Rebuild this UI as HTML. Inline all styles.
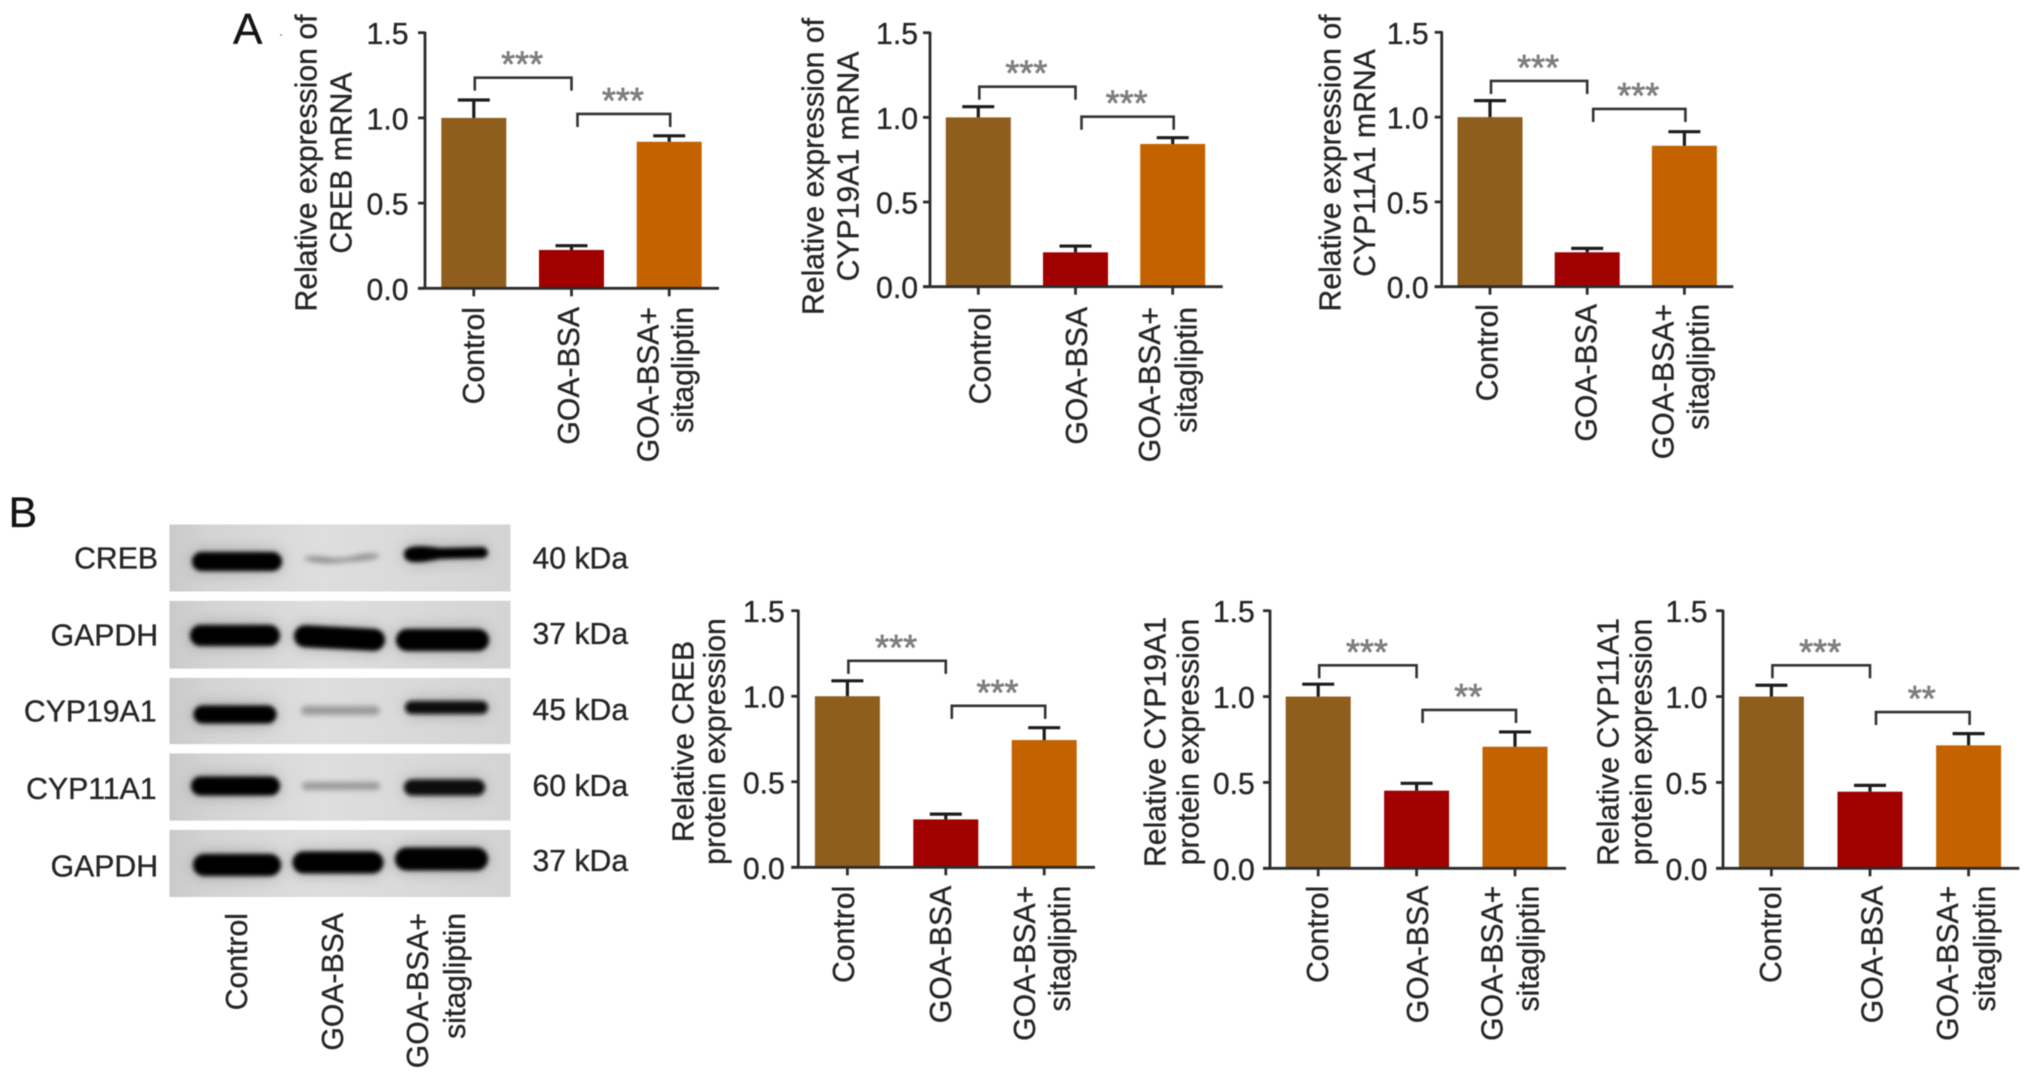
<!DOCTYPE html>
<html lang="en">
<head>
<meta charset="utf-8">
<title>Relative expression of CREB, CYP19A1 and CYP11A1</title>
<style>
html,body{margin:0;padding:0;background:#fff;width:2032px;height:1078px;overflow:hidden}
svg{display:block;filter:blur(0.5px)}
text{font-family:"Liberation Sans",Arial,sans-serif;fill:#262626;stroke:#262626;stroke-width:0.35px;font-size:30.2px}
</style>
</head>
<body>
<svg id="figure" xmlns="http://www.w3.org/2000/svg" width="2032" height="1078" viewBox="0 0 2032 1078">
<defs>
<linearGradient id="blotBg" x1="0" x2="1" y1="0" y2="0">
<stop offset="0" stop-color="#cacaca"/><stop offset="0.12" stop-color="#d4d4d4"/><stop offset="0.45" stop-color="#dedede"/><stop offset="1" stop-color="#d4d4d4"/>
</linearGradient>
<filter id="bandBlur" x="-25%" y="-150%" width="150%" height="400%">
<feGaussianBlur in="SourceGraphic" stdDeviation="8" result="wide"/>
<feComponentTransfer in="wide" result="halo"><feFuncA type="linear" slope="0.28"/></feComponentTransfer>
<feGaussianBlur in="SourceGraphic" stdDeviation="2.2" result="core"/>
<feMerge><feMergeNode in="halo"/><feMergeNode in="core"/></feMerge>
</filter>
<filter id="faintBlur" x="-10%" y="-200%" width="120%" height="500%"><feGaussianBlur stdDeviation="2.6"/></filter>
<clipPath id="blotClip1"><rect x="169.5" y="524.5" width="341" height="67"/></clipPath>
<clipPath id="blotClip2"><rect x="169.5" y="600.7" width="341" height="68"/></clipPath>
<clipPath id="blotClip3"><rect x="169.5" y="677.7" width="341" height="66.6"/></clipPath>
<clipPath id="blotClip4"><rect x="169.5" y="753.3" width="341" height="67.4"/></clipPath>
<clipPath id="blotClip5"><rect x="169.5" y="829.7" width="341" height="67.4"/></clipPath>
</defs>
<rect width="2032" height="1078" fill="#fff"/>
<text x="233" y="44" style="font-size:44px;fill:#141414;stroke:#141414">A</text>
<circle cx="281" cy="35" r="0.9" fill="#777"/>
<text x="8.5" y="527" style="font-size:43px;fill:#141414;stroke:#141414">B</text>

<g>
<g clip-path="url(#blotClip1)">
<rect x="169.5" y="524.5" width="341" height="67" fill="url(#blotBg)"/>
<rect x="192" y="552" width="90" height="19" rx="9.5" fill="#050505" filter="url(#bandBlur)"/>
<path d="M303 558C320 553 330 561 350 557C365 553 375 553 380 555C378 560 360 561 345 562C330 564 310 564 303 558Z" fill="#8f8f8f" filter="url(#faintBlur)"/>
<path d="M404 554C404 545 420 545 440 548L484 547Q492 553 484 558L440 559C420 563 404 565 404 554Z" fill="#050505" filter="url(#bandBlur)"/>
</g>
<g clip-path="url(#blotClip2)">
<rect x="169.5" y="600.7" width="341" height="68" fill="url(#blotBg)"/>
<rect x="190" y="625" width="90" height="21" rx="10.5" fill="#050505" filter="url(#bandBlur)"/>
<rect x="294" y="627" width="91" height="22" rx="11" fill="#050505" filter="url(#bandBlur)" transform="rotate(3 339 638)"/>
<rect x="396" y="629" width="93" height="22" rx="11" fill="#050505" filter="url(#bandBlur)"/>
</g>
<g clip-path="url(#blotClip3)">
<rect x="169.5" y="677.7" width="341" height="66.6" fill="url(#blotBg)"/>
<rect x="193.5" y="705.5" width="83" height="18" rx="9" fill="#050505" filter="url(#bandBlur)"/>
<rect x="301" y="706" width="79" height="9" rx="4.5" fill="#9a9a9a" filter="url(#faintBlur)"/>
<rect x="405" y="701" width="83" height="13" rx="6.5" fill="#070707" filter="url(#bandBlur)"/>
</g>
<g clip-path="url(#blotClip4)">
<rect x="169.5" y="753.3" width="341" height="67.4" fill="url(#blotBg)"/>
<rect x="191" y="776.5" width="89" height="19" rx="9.5" fill="#050505" filter="url(#bandBlur)"/>
<rect x="302" y="782" width="78" height="8" rx="4" fill="#9a9a9a" filter="url(#faintBlur)"/>
<rect x="404" y="779.5" width="81" height="16" rx="8" fill="#070707" filter="url(#bandBlur)"/>
</g>
<g clip-path="url(#blotClip5)">
<rect x="169.5" y="829.7" width="341" height="67.4" fill="url(#blotBg)"/>
<rect x="193" y="854" width="88" height="22" rx="11" fill="#050505" filter="url(#bandBlur)"/>
<rect x="292.5" y="851.5" width="91" height="22" rx="11" fill="#050505" filter="url(#bandBlur)"/>
<rect x="395" y="847.5" width="93" height="23" rx="11.5" fill="#050505" filter="url(#bandBlur)"/>
</g>
<g text-anchor="end">
<text x="158" y="568.3">CREB</text>
<text x="158" y="645.7">GAPDH</text>
<text x="156.5" y="721.7">CYP19A1</text>
<text x="156.5" y="799">CYP11A1</text>
<text x="158" y="876.5">GAPDH</text>
</g>
<g>
<text x="532.5" y="568.5">40 kDa</text>
<text x="532.5" y="644">37 kDa</text>
<text x="532.5" y="720">45 kDa</text>
<text x="532.5" y="796">60 kDa</text>
<text x="532.5" y="871">37 kDa</text>
</g>
<g text-anchor="end">
<text transform="translate(247 913) rotate(-90)">Control</text>
<text transform="translate(343 913) rotate(-90)">GOA-BSA</text>
<text transform="translate(428 913) rotate(-90)">GOA-BSA+</text>
<text transform="translate(465 913) rotate(-90)">sitagliptin</text>
</g>
</g>
</svg>
<script>
const categories = ['Control', 'GOA-BSA', 'GOA-BSA+ sitagliptin'];
const tickValues = [0, 0.5, 1, 1.5];
const tickLabels = ['0.0', '0.5', '1.0', '1.5'];
const barColors = ['#8f5e1d', '#a00000', '#c46200'];

const crebMrnaMeans = [1, 0.225, 0.86];
const crebMrnaErrors = [0.105, 0.025, 0.035];
const crebMrnaBrackets = [1.236, 1.023];
const crebMrnaStars = ['***', '***'];

const cyp19MrnaMeans = [1, 0.203, 0.843];
const cyp19MrnaErrors = [0.063, 0.037, 0.037];
const cyp19MrnaBrackets = [1.181, 1.004];
const cyp19MrnaStars = ['***', '***'];

const cyp11MrnaMeans = [1, 0.203, 0.831];
const cyp11MrnaErrors = [0.097, 0.023, 0.083];
const cyp11MrnaBrackets = [1.213, 1.048];
const cyp11MrnaStars = ['***', '***'];

const crebProteinMeans = [1, 0.28, 0.744];
const crebProteinErrors = [0.09, 0.031, 0.072];
const crebProteinBrackets = [1.207, 0.944];
const crebProteinStars = ['***', '***'];

const cyp19ProteinMeans = [1, 0.452, 0.708];
const cyp19ProteinErrors = [0.072, 0.043, 0.086];
const cyp19ProteinBrackets = [1.182, 0.922];
const cyp19ProteinStars = ['***', '**'];

const cyp11ProteinMeans = [1, 0.446, 0.716];
const cyp11ProteinErrors = [0.066, 0.037, 0.068];
const cyp11ProteinBrackets = [1.182, 0.91];
const cyp11ProteinStars = ['***', '**'];

const charts = [
  {id:'creb-mrna', means:crebMrnaMeans, errors:crebMrnaErrors, brackets:crebMrnaBrackets, stars:crebMrnaStars,
   title:['Relative expression of','CREB mRNA'], ax:425, y0:288.3, y15:32.7, xEnd:719, first:473.8, step:97.7,
   labelGap:16.5, titleX:[316.7,351.7], titleY:163, xTop:307, dx:[10,7.5,-10.7,24]},
  {id:'cyp19a1-mrna', means:cyp19MrnaMeans, errors:cyp19MrnaErrors, brackets:cyp19MrnaBrackets, stars:cyp19MrnaStars,
   title:['Relative expression of','CYP19A1 mRNA'], ax:930, y0:286.7, y15:32.7, xEnd:1222.7, first:978.3, step:97.2,
   labelGap:12, titleX:[823.3,858.3], titleY:166.5, xTop:307, dx:[12.4,11.4,-12.7,24]},
  {id:'cyp11a1-mrna', means:cyp11MrnaMeans, errors:cyp11MrnaErrors, brackets:cyp11MrnaBrackets, stars:cyp11MrnaStars,
   title:['Relative expression of','CYP11A1 mRNA'], ax:1441.7, y0:286.7, y15:32.3, xEnd:1733.3, first:1490, step:97.2,
   labelGap:13, titleX:[1340.7,1375], titleY:163, xTop:304, dx:[7.3,9.5,-10.7,24]},
  {id:'creb-protein', means:crebProteinMeans, errors:crebProteinErrors, brackets:crebProteinBrackets, stars:crebProteinStars,
   title:['Relative CREB','protein expression'], ax:798.3, y0:867.3, y15:610.7, xEnd:1095, first:847.4, step:98.4,
   labelGap:13.5, titleX:[693.3,725], titleY:741.5, xTop:885.7, dx:[6.7,5,-9,26]},
  {id:'cyp19a1-protein', means:cyp19ProteinMeans, errors:cyp19ProteinErrors, brackets:cyp19ProteinBrackets, stars:cyp19ProteinStars,
   title:['Relative CYP19A1','protein expression'], ax:1270, y0:868.3, y15:610.7, xEnd:1566, first:1318.2, step:98.4,
   labelGap:15.2, titleX:[1165.7,1198.3], titleY:742, xTop:885.7, dx:[10,11.3,-12.3,23.3]},
  {id:'cyp11a1-protein', means:cyp11ProteinMeans, errors:cyp11ProteinErrors, brackets:cyp11ProteinBrackets, stars:cyp11ProteinStars,
   title:['Relative CYP11A1','protein expression'], ax:1723, y0:868.3, y15:610.7, xEnd:2019.3, first:1771.4, step:98.6,
   labelGap:15.5, titleX:[1618.7,1651.3], titleY:742, xTop:885.7, dx:[9.7,12.4,-10.7,26.3]}
];

const NS = 'http://www.w3.org/2000/svg';
const figure = document.getElementById('figure');
const BAR_WIDTH = 65;
const CAP_WIDTH = 32;

function mk(tag, attrs, parent, text) {
  const el = document.createElementNS(NS, tag);
  for (const k in attrs) el.setAttribute(k, attrs[k]);
  if (text !== undefined) el.textContent = text;
  parent.appendChild(el);
  return el;
}

function drawChart(c) {
  const yScale = v => c.y0 - v * (c.y0 - c.y15) / 1.5;
  const xScale = i => c.first + c.step * i;
  const g = mk('g', {}, figure);
  
  

  c.means.forEach((m, i) => {
    const bar = mk('rect', {x: xScale(i) - BAR_WIDTH / 2, y: yScale(m), width: BAR_WIDTH, height: c.y0 - yScale(m), fill: barColors[i]}, g);
    
    

    const top = yScale(m + c.errors[i]);
    const stem = mk('line', {x1: xScale(i), x2: xScale(i), y1: yScale(m), y2: top, stroke: '#1c1c1c', 'stroke-width': 3.2}, g);
    
    

    const cap = mk('line', {x1: xScale(i) - CAP_WIDTH / 2, x2: xScale(i) + CAP_WIDTH / 2, y1: top, y2: top, stroke: '#1c1c1c', 'stroke-width': 3.2}, g);
    
    

    const tick = mk('line', {x1: xScale(i), x2: xScale(i), y1: c.y0, y2: c.y0 + 8, stroke: '#2c2c2c', 'stroke-width': 2.8}, g);
    
    
  });

  const yAxis = mk('line', {x1: c.ax, x2: c.ax, y1: c.y15 - 1, y2: c.y0 + 1, stroke: '#2c2c2c', 'stroke-width': 2.8}, g);
  
  

  const xAxis = mk('line', {x1: c.ax - 7, x2: c.xEnd, y1: c.y0, y2: c.y0, stroke: '#2c2c2c', 'stroke-width': 2.8}, g);
  
  

  tickValues.forEach((v, i) => {
    const t = mk('line', {x1: c.ax - 7, x2: c.ax, y1: yScale(v), y2: yScale(v), stroke: '#2c2c2c', 'stroke-width': 2.8}, g);
    
    

    const lab = mk('text', {x: c.ax - c.labelGap, y: yScale(v) + 11.5, 'text-anchor': 'end'}, g, tickLabels[i]);
    
    
  });

  c.title.forEach((line, i) => {
    const t = mk('text', {transform: 'translate(' + c.titleX[i] + ' ' + c.titleY + ') rotate(-90)', 'text-anchor': 'middle'}, g, line);
    
    
  });

  const xLabelLines = [[categories[0], 0, c.dx[0]], [categories[1], 1, c.dx[1]],
    [categories[2].split(' ')[0], 2, c.dx[2]], [categories[2].split(' ')[1], 2, c.dx[3]]];
  xLabelLines.forEach((row, i) => {
    const t = mk('text', {transform: 'translate(' + (xScale(row[1]) + row[2]) + ' ' + c.xTop + ') rotate(-90)', 'text-anchor': 'end'}, g, row[0]);
    
    
  });

  c.brackets.forEach((level, i) => {
    const left = xScale(i) + (i === 0 ? 1 : 6);
    const right = xScale(i + 1) + (i === 0 ? 0 : 1);
    const yb = yScale(level);
    const b = mk('path', {d: 'M' + left + ' ' + (yb + 13) + 'V' + yb + 'H' + right + 'V' + (yb + 13), fill: 'none', stroke: '#333', 'stroke-width': 2.6}, g);
    
    

    const s = mk('text', {x: (left + right) / 2 - 1, y: yb - 1, 'text-anchor': 'middle', style: 'font-size:36px;fill:#7e7e7e;stroke:#7e7e7e;stroke-width:0.7px'}, g, c.stars[i]);
    
    
  });
}

charts.forEach(drawChart);
</script>
</body>
</html>
